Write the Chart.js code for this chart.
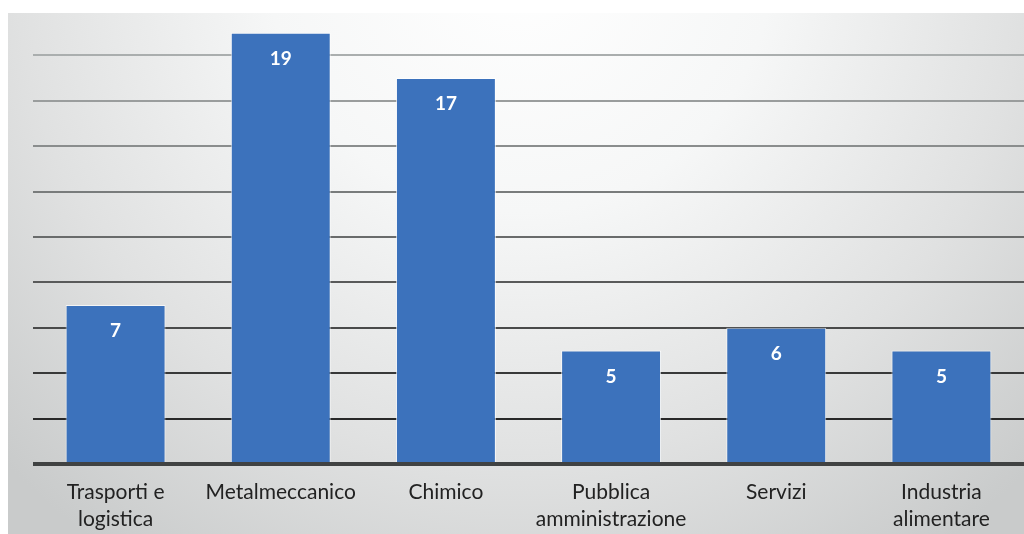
<!DOCTYPE html>
<html>
<head>
<meta charset="utf-8">
<script src="https://cdn.jsdelivr.net/npm/chart.js@4.4.1/dist/chart.umd.min.js"></script>
<style>
  html, body { margin: 0; padding: 0; background: #fff; }
  #wrap { width: 1024px; height: 534px; position: relative; }
</style>
</head>
<body>
<div id="wrap"><canvas id="myChart"></canvas></div>
<script>
const ctx = document.getElementById('myChart');

// sectors and number of companies
const settori = [
  ['Trasporti e', 'logistica'],
  'Metalmeccanico',
  'Chimico',
  ['Pubblica', 'amministrazione'],
  'Servizi',
  ['Industria', 'alimentare']
];
const aziende = [7, 19, 17, 5, 6, 5];

// light panel behind the plot, brighter at the top centre
const sfondo = {
  id: 'sfondo',
  beforeDraw(chart) {
    const c = chart.ctx;
    c.save();
    c.fillStyle = '#ffffff';
    c.fillRect(0, 0, chart.width, chart.height);
    const g = c.createRadialGradient(520, -40, 0, 520, -40, 720);
    g.addColorStop(0, '#ffffff');
    g.addColorStop(0.35, '#f6f7f7');
    g.addColorStop(0.7, '#e0e1e1');
    g.addColorStop(1, '#c9cbcb');
    c.fillStyle = g;
    c.fillRect(8, 13, chart.width - 8, chart.height - 13);
    c.restore();
  }
};

// value written inside the top of each bar
const etichette = {
  id: 'etichette',
  afterDatasetsDraw(chart) {
    const c = chart.ctx;
    const meta = chart.getDatasetMeta(0);
    c.save();
    c.fillStyle = '#ffffff';
    c.font = 'bold 19px Lato';
    c.textAlign = 'center';
    c.textBaseline = 'middle';
    meta.data.forEach(function(bar, i) {
      c.fillText(aziende[i], bar.x, bar.y + 26);
    });
    c.restore();
  }
};

// grid lines darken towards the bottom
function gridColor(context) {
  const v = context.tick.value;
  if (v === 0) return '#404242';
  if (v >= 20) return 'rgba(0,0,0,0)';
  const t = (18 - v) / 16;
  const a = [170, 174, 174], b = [40, 40, 40];
  const m = a.map(function(x, k) { return Math.round(x + (b[k] - x) * t); });
  return 'rgb(' + m.join(',') + ')';
}

const config = {
  type: 'bar',
  data: {
    labels: settori,
    datasets: [{
      data: aziende,
      backgroundColor: '#3c72bc',
      borderColor: 'rgba(255,255,255,0.7)',
      borderWidth: 1,
      categoryPercentage: 1,
      barPercentage: 0.605
    }]
  },
  options: {
    responsive: false,
    animation: false,
    layout: { padding: { top: 10, left: 33, right: -2, bottom: -14 } },
    plugins: {
      legend: { display: false },
      tooltip: { enabled: false },
      title: { display: false }
    },
    scales: {
      x: {
        grid: { display: false, drawTicks: false },
        border: { display: false },
        ticks: {
          color: '#222222',
          font: { family: 'Lato', size: 21, lineHeight: '27px' },
          padding: 15,
          maxRotation: 0,
          autoSkip: false
        }
      },
      y: {
        min: 0,
        max: 20,
        ticks: { display: false, stepSize: 2 },
        border: { display: false },
        grid: {
          drawTicks: false,
          color: gridColor,
          lineWidth: function(context) { return context.tick.value === 0 ? 4 : 2; }
        }
      }
    }
  },
  plugins: [sfondo, etichette]
};

ctx.width = 1024;
ctx.height = 534;
let grafico = new Chart(ctx, config);
</script>
</body>
</html>
